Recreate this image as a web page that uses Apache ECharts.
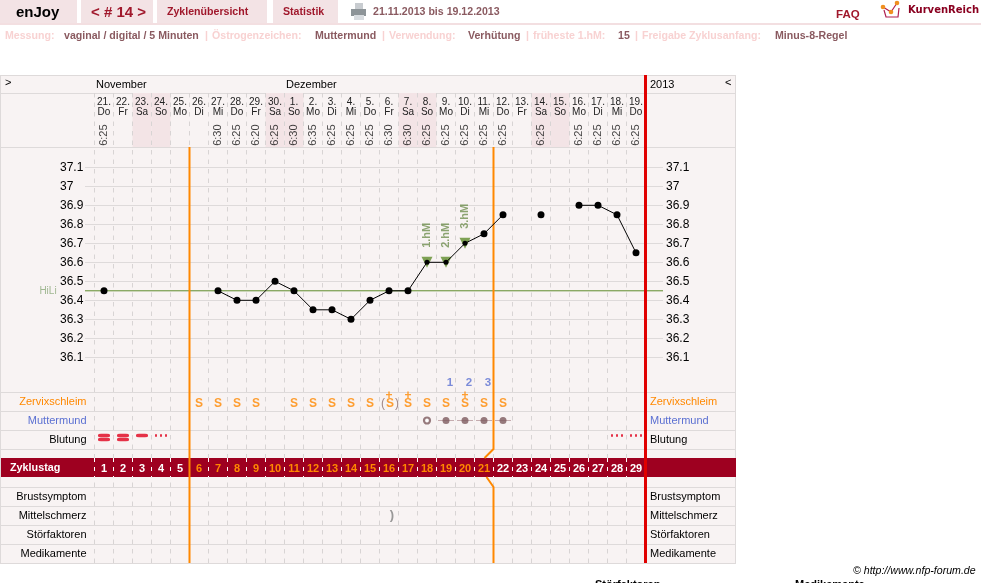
<!DOCTYPE html>
<html><head><meta charset="utf-8">
<style>html,body{margin:0;padding:0;background:#fff}#c{width:981px;height:583px}</style>
<script src="https://cdn.jsdelivr.net/npm/echarts@6/dist/echarts.min.js"></script>
</head><body><div id="c"></div>
<script>
const cycleDays=[1,2,3,4,5,6,7,8,9,10,11,12,13,14,15,16,17,18,19,20,21,22,23,24,25,26,27,28,29];
const dates=['21.','22.','23.','24.','25.','26.','27.','28.','29.','30.','1.','2.','3.','4.','5.','6.','7.','8.','9.','10.','11.','12.','13.','14.','15.','16.','17.','18.','19.'];
const weekdays=['Do','Fr','Sa','So','Mo','Di','Mi','Do','Fr','Sa','So','Mo','Di','Mi','Do','Fr','Sa','So','Mo','Di','Mi','Do','Fr','Sa','So','Mo','Di','Mi','Do'];
const times=['6:25',null,null,null,null,null,'6:30','6:25','6:20','6:25','6:30','6:35','6:25','6:25','6:25','6:30','6:30','6:25','6:25','6:25','6:25','6:25',null,'6:25',null,'6:25','6:25','6:25','6:25'];
const temps=[36.45,null,null,null,null,null,36.45,36.4,36.4,36.5,36.45,36.35,36.35,36.3,36.4,36.45,36.45,36.6,36.6,36.7,36.75,36.85,null,36.85,null,36.9,36.9,36.85,36.65];
const coverLine=36.45;
const intercourse=[[18,'1.hM'],[19,'2.hM'],[20,'3.hM']];
const tempTicks=[36.1,36.2,36.3,36.4,36.5,36.6,36.7,36.8,36.9,37,37.1];
const mucusS=[6,7,8,9,11,12,13,14,15,18,19,21,22];
const mucusSPlus=[17,20];
const mucusBracketed=[16];
const peakCount=[[19,'1'],[20,'2'],[21,'3']];
const cervixOpen=[18];
const cervixClosed=[19,20,21,22];
const bleedHeavy=[1,2];
const bleedMedium=[3];
const bleedSpot=[4,28,29];
const midPain=[16];
const phaseBreak=5;      // boundary after cycle day 5
const coverBreak=21;     // boundary after cycle day 21
const rowsUpper=['','Zervixschleim','Muttermund','Blutung'];
const rowsLower=['Brustsymptom','Mittelschmerz','Störfaktoren','Medikamente'];

const FF='"Liberation Sans",Arial,sans-serif';
const GRID='#dedada', BG='#f8f3f3', TAB='#f3e3e5', WINE='#a0182c', MAUVE='#8a5a60', PALE='#f8d2d2';
const ORANGE='#ff8800', BLUE='#5b70d2', RED='#e00000', BAR='#9e0020', BROWN='#7d5a5e', GREEN='#5f8c2c', BLOOD='#e0001c';

const L=94.5,W=551;
const dayCats=cycleDays.map(String);
const ix=d=>d-1;
const catAxis=(g,o)=>Object.assign({type:'category',gridIndex:g,data:dayCats,boundaryGap:true,axisLine:{show:false},axisTick:{show:false},axisLabel:{show:false},splitLine:{show:false}},o||{});
const hiddenVal=(g)=>({type:'value',gridIndex:g,min:0,max:1,show:false});
const rowColor=v=>v==='Zervixschleim'?ORANGE:v==='Muttermund'?BLUE:'#000';
const rowAxis=(g,data,pos,m)=>({type:'category',gridIndex:g,data,inverse:true,position:pos,axisLine:{show:false},axisTick:{show:false},splitLine:{show:false},
  axisLabel:{show:true,interval:0,margin:m,align:pos==='left'?'right':'left',fontFamily:FF,fontSize:11,color:rowColor}});
const tempAxis=(pos,m)=>({type:'value',gridIndex:2,position:pos,min:36,max:37.2,interval:0.1,axisLine:{show:false},axisTick:{show:false},
  splitLine:{show:pos==='left',showMinLine:false,showMaxLine:false,lineStyle:{color:GRID,width:1}},
  axisLabel:{show:true,margin:m,align:'left',fontFamily:FF,fontSize:12,color:'#000',showMinLabel:true,showMaxLabel:true,
    formatter:v=>tempTicks.indexOf(+(+v).toFixed(1))>=0?String(+(+v).toFixed(1)):''}});

function textMarks(name,xi,yi,data,label,extra){
  return Object.assign({name,type:'scatter',xAxisIndex:xi,yAxisIndex:yi,data,symbolSize:1,silent:true,z:6,
    itemStyle:{color:'transparent'},label:Object.assign({show:true,position:'inside',fontFamily:FF,formatter:p=>p.data[2]},label)},extra||{});
}
function symbolMarks(name,data,symbol,size,color,offset,extra){
  return Object.assign({name,type:'scatter',xAxisIndex:4,yAxisIndex:4,data,symbol,symbolSize:size,symbolOffset:offset||[0,0],silent:true,z:6,itemStyle:{color}},extra||{});
}

const boundaryLine=(name,day,color,width,topOff,botOff,kink)=>({
  name,type:'custom',xAxisIndex:0,yAxisIndex:0,data:[[day]],z:7,silent:true,clip:false,
  renderItem(params,api){
    const b=api.size([1,0])[0];
    const x=api.coord([api.value(0),0])[0]+b/2;
    const top=params.coordSys.y, bot=top+params.coordSys.height;
    const st={stroke:color,lineWidth:width,fill:null};
    if(!kink) return {type:'line',shape:{x1:x,y1:top+topOff,x2:x,y2:bot+botOff},style:st};
    return {type:'group',children:[
      {type:'polyline',shape:{points:[[x,top+topOff],[x,top+356],[x-9,top+365]]},style:st},
      {type:'polyline',shape:{points:[[x-7,top+384],[x,top+394],[x,bot]]},style:st}]};
  }
});

const T=(text,x,y,fs,color,weight,extra)=>({type:'text',x,y,z:20,style:Object.assign({text,fill:color,fontFamily:FF,fontSize:fs,fontWeight:weight||'normal',verticalAlign:'middle',textAlign:'left'},extra||{})});
const R=(x,y,w,h,c,z)=>({type:'rect',z:z===undefined?-10:z,shape:{x,y,width:w,height:h},style:{fill:c}});
const HL=(y)=>R(0,y,736,1,GRID,-9);

const graphics=[
  R(0,0,77,23,TAB),R(81,0,72,23,TAB),R(157,0,110,23,TAB),R(273,0,65,23,TAB),R(0,23,981,2,'#f3dfe1'),
  T('enJoy',16,13,15,'#000','bold'),T('< # 14 >',91,13,15,WINE,'bold'),T('Zyklenübersicht',167,12.5,10.6,WINE,'bold'),T('Statistik',283,12.5,10.6,WINE,'bold'),
  T('21.11.2013 bis 19.12.2013',373,12.5,10.6,MAUVE,'bold'),T('FAQ',836,14.5,11.5,WINE,'bold'),
  T('KurvenReich',908,10.5,10,'#8a0020','bold',{fontFamily:'"DejaVu Sans"'}),
  // printer icon
  R(355,3,8,7,'#c8ccd0',1),R(351,9,15,7,'#8d9498',1),R(354,15,10,5,'#d8dce0',1),
  // logo
  {type:'polyline',z:5,shape:{points:[[884,10],[886,17],[898,17],[899,8]]},style:{stroke:'#b02050',fill:null,lineWidth:1.2}},
  {type:'polyline',z:5,shape:{points:[[883,7],[891,12],[897,3]]},style:{stroke:'#b02050',fill:null,lineWidth:1.2}},
  {type:'circle',z:6,shape:{cx:883,cy:7,r:2.3},style:{fill:'#f09020'}},{type:'circle',z:6,shape:{cx:891,cy:12,r:2.3},style:{fill:'#f09020'}},{type:'circle',z:6,shape:{cx:897,cy:3,r:2.3},style:{fill:'#f09020'}},
  // criteria line
  T('Messung:',5,36,10.6,PALE,'bold'),T('vaginal / digital / 5 Minuten',64,36,10.6,MAUVE,'bold'),T('|',205,36,10.6,PALE,'bold'),
  T('Östrogenzeichen:',212,36,10.6,PALE,'bold'),T('Muttermund',315,36,10.6,MAUVE,'bold'),T('|',382,36,10.6,PALE,'bold'),
  T('Verwendung:',389,36,10.6,PALE,'bold'),T('Verhütung',468,36,10.6,MAUVE,'bold'),T('|',526,36,10.6,PALE,'bold'),
  T('früheste 1.hM:',533,36,10.6,PALE,'bold'),T('15',618,36,10.6,MAUVE,'bold'),T('|',635,36,10.6,PALE,'bold'),
  T('Freigabe Zyklusanfang:',642,36,10.6,PALE,'bold'),T('Minus-8-Regel',775,36,10.6,MAUVE,'bold'),
  // panel
  R(0,75,736,488,BG,-11),R(0,75,1,489,GRID,-9),R(735,75,1,489,GRID,-9),
  HL(75),HL(93),HL(147),HL(392),HL(411),HL(430),HL(449),HL(487),HL(506),HL(525),HL(544),HL(563),
  R(1,458,735,19,BAR,2),
  T('>',5,83,11,'#000'),T('November',96,85,11,'#000'),T('Dezember',286,85,11,'#000'),T('2013',650,85,11,'#000'),T('<',725,83,11,'#000'),
  T('Zyklustag',10,468,10.8,'#fff','bold'),
  T('© http://www.nfp-forum.de',853,571,10.6,'#000','normal',{fontStyle:'italic'}),
  T('Störfaktoren',595,584.5,11,'#000','bold'),T('Medikamente',795,584.5,11,'#000','bold')
];

const option={
  animation:false,
  backgroundColor:'#fff',
  graphic:{elements:graphics},
  grid:[
    {left:L,width:W,top:93,height:470},
    {left:L,width:W,top:93,height:54},
    {left:85,width:578,top:148.3,height:228},
    {left:L,width:W,top:148.3,height:228},
    {left:L,width:W,top:373,height:76},
    {left:L,width:W,top:487,height:76},
    {left:L,width:W,top:458,height:19}
  ],
  xAxis:[
    catAxis(0,{z:1,splitLine:{show:true,interval:0,lineStyle:{color:'#d8d4d4',type:[4.5,5],width:1}}}),
    catAxis(1,{position:'top',z:4,axisLabel:{show:true,interval:0,inside:true,margin:4,verticalAlign:'top',lineHeight:10,fontFamily:FF,fontSize:10,color:'#222',
      formatter:(v,i)=>dates[i]+'\n'+weekdays[i]}}),
    {type:'value',gridIndex:2,min:0,max:1,show:false},
    catAxis(3),
    catAxis(4),
    catAxis(5),
    catAxis(6,{position:'bottom',z:4,splitLine:{show:true,interval:0,lineStyle:{color:'#fff',type:[4,5],width:1}},
      axisLabel:{show:true,interval:0,inside:true,margin:3,verticalAlign:'bottom',fontFamily:FF,fontSize:11,fontWeight:'bold',
        color:v=>(+v>phaseBreak&&+v<=coverBreak)?ORANGE:'#fff'}})
  ],
  yAxis:[
    hiddenVal(0),
    hiddenVal(1),
    tempAxis('left',25),
    {type:'value',gridIndex:3,min:36,max:37.2,show:false},
    rowAxis(4,rowsUpper,'left',8),
    rowAxis(5,rowsLower,'left',8),
    hiddenVal(6),
    tempAxis('right',3),
    rowAxis(4,rowsUpper,'right',4.5),
    rowAxis(5,rowsLower,'right',4.5)
  ],
  series:[
    {name:'Wochenende',type:'bar',xAxisIndex:1,yAxisIndex:1,barWidth:'100%',z:0,silent:true,itemStyle:{color:'#f3e4e6'},
      data:weekdays.map(w=>(w==='Sa'||w==='So')?1:0)},
    textMarks('Messzeit',1,1,times.map((t,i)=>t?[i,0.22,t]:null).filter(Boolean),{rotate:90,fontSize:11,color:'#111'}),
    {name:'HiLi',type:'line',xAxisIndex:2,yAxisIndex:2,data:[[0,coverLine],[1,coverLine]],symbol:'none',z:3,silent:true,lineStyle:{color:GREEN,width:1}},
    textMarks('HiLi-Label',2,2,[[0,coverLine,'HiLi']],{fontSize:10,color:'#8aa878',offset:[-37,0]}),
    boundaryLine('Phase',ix(phaseBreak),ORANGE,2,54,0,false),
    boundaryLine('Hochlage',ix(coverBreak),ORANGE,2,54,0,true),
    {name:'Ende',type:'custom',xAxisIndex:0,yAxisIndex:0,data:[[28]],z:7,silent:true,clip:false,renderItem(p,api){
      const x=api.coord([api.value(0),0])[0]+api.size([1,0])[0]/2;
      return {type:'line',shape:{x1:x,y1:p.coordSys.y-18,x2:x,y2:p.coordSys.y+p.coordSys.height},style:{stroke:RED,lineWidth:3}};}},
    {name:'hM',type:'scatter',xAxisIndex:3,yAxisIndex:3,symbol:'triangle',symbolRotate:180,symbolSize:[11,11],z:8,silent:true,itemStyle:{color:GREEN},
      data:intercourse.map(h=>[ix(h[0]),temps[ix(h[0])],h[1]]),
      label:{show:true,position:'inside',rotate:90,offset:[27,0],formatter:p=>p.data[2],fontFamily:FF,fontSize:11,color:'#6f8f4f',fontWeight:'bold'}},
    {name:'Temperatur',type:'line',xAxisIndex:3,yAxisIndex:3,data:temps,connectNulls:false,showAllSymbol:true,symbol:'circle',z:9,silent:true,
      symbolSize:(v,p)=>intercourse.some(h=>ix(h[0])===p.dataIndex)?5:7,
      itemStyle:{color:'#000'},lineStyle:{color:'#000',width:1}},
    textMarks('Schleim',4,4,mucusS.map(d=>[ix(d),'Zervixschleim','S']),{fontSize:12,fontWeight:'bold',color:ORANGE,offset:[0,2.5]}),
    textMarks('Schleim+',4,4,mucusSPlus.map(d=>[ix(d),'Zervixschleim','S']),{fontSize:12,fontWeight:'bold',color:ORANGE,offset:[0,2.5]}),
    textMarks('Plus',4,4,mucusSPlus.concat(mucusBracketed).map(d=>[ix(d),'Zervixschleim','+']),{fontSize:12,fontWeight:'bold',color:ORANGE,offset:[0,-5.5]}),
    textMarks('Klammer',4,4,mucusBracketed.map(d=>[ix(d),'Zervixschleim','{p|(}{s|S}{p|)}']),{fontSize:12,offset:[1,2],
      rich:{p:{fontSize:12,fontFamily:FF,color:'#8a6a6a',padding:[0,1,0,1]},s:{fontSize:12,fontFamily:FF,fontWeight:'bold',color:ORANGE}}}),
    textMarks('Gipfel',4,4,peakCount.map(p=>[ix(p[0]),'',p[1]]),{fontSize:11.5,fontWeight:'bold',color:BLUE,offset:[4,0]}),
    symbolMarks('MM-Linie',cervixClosed.map(d=>[ix(d),'Muttermund']),'rect',[16,1],'#b89a9e'),
    symbolMarks('MM-geschlossen',cervixClosed.map(d=>[ix(d),'Muttermund']),'circle',7,BROWN),
    symbolMarks('MM-offen',cervixOpen.map(d=>[ix(d),'Muttermund']),'circle',6,'#fff',[0,0],{itemStyle:{color:'#fff',borderColor:BROWN,borderWidth:2.2}}),
    symbolMarks('Blutung-stark-1',bleedHeavy.map(d=>[ix(d),'Blutung']),'roundRect',[12,3.4],BLOOD,[0,-4]),
    symbolMarks('Blutung-stark-2',bleedHeavy.map(d=>[ix(d),'Blutung']),'roundRect',[12,3.4],BLOOD,[0,0]),
    symbolMarks('Blutung-mittel',bleedMedium.map(d=>[ix(d),'Blutung']),'roundRect',[12,3.4],BLOOD,[0,-4]),
    symbolMarks('Blutung-Schmier',bleedSpot.map(d=>[ix(d),'Blutung']),'path://M0 0h2v2h-2zM5 0h2v2h-2zM10 0h2v2h-2z',[12,2.4],BLOOD,[0,-4]),
    textMarks('Mittelschmerz',5,5,midPain.map(d=>[ix(d),'Mittelschmerz',')']),{fontSize:13,fontWeight:'bold',color:'#808080',offset:[3,0]})
  ]
};
const chart=echarts.init(document.getElementById('c'),null,{renderer:'canvas'});
chart.setOption(option);
</script></body></html>
